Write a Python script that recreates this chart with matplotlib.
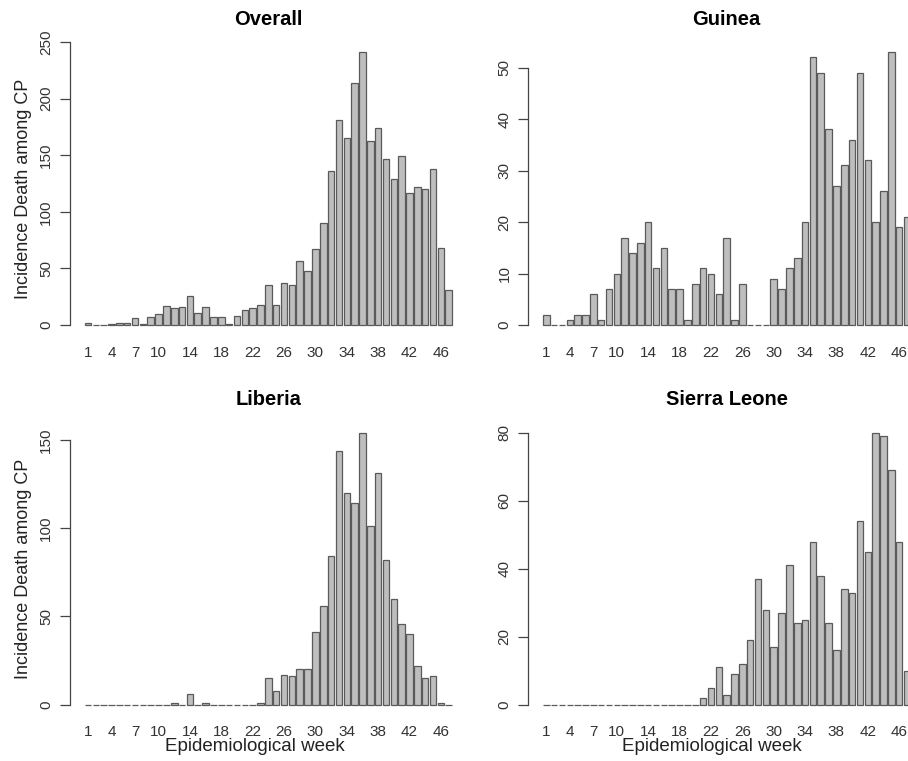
import numpy as np
import matplotlib
matplotlib.use("Agg")
import matplotlib.pyplot as plt

plt.rcParams['font.family'] = ['Liberation Sans', 'DejaVu Sans']

weeks = list(range(1, 48))
tick_weeks = [1, 4, 7, 10, 14, 18, 22, 26, 30, 34, 38, 42, 46]

overall = [2, 0, 0, 1, 2, 2, 6, 1, 7, 10, 17, 15, 16, 26, 11, 16, 7, 7, 1, 8,
           13, 15, 18, 35, 18, 37, 35, 57, 48, 67, 90, 136, 181, 165, 214, 241,
           163, 174, 147, 129, 149, 117, 122, 120, 138, 68, 31]
guinea = [2, 0, 0, 1, 2, 2, 6, 1, 7, 10, 17, 14, 16, 20, 11, 15, 7, 7, 1, 8,
          11, 10, 6, 17, 1, 8, 0, 0, 0, 9, 7, 11, 13, 20, 52, 49, 38, 27, 31, 36,
          49, 32, 20, 26, 53, 19, 21]
liberia = [0, 0, 0, 0, 0, 0, 0, 0, 0, 0, 0, 1, 0, 6, 0, 1, 0, 0, 0, 0,
           0, 0, 1, 15, 8, 17, 16, 20, 20, 41, 56, 84, 144, 120, 114, 154, 101, 131, 82, 60,
           46, 40, 22, 15, 16, 1, 0]
sierra_leone = [0, 0, 0, 0, 0, 0, 0, 0, 0, 0, 0, 0, 0, 0, 0, 0, 0, 0, 0, 0,
                2, 5, 11, 3, 9, 12, 19, 37, 28, 17, 27, 41, 24, 25, 48, 38, 24, 16, 34, 33,
                54, 45, 80, 79, 69, 48, 10]

titles = ["Overall", "Guinea", "Liberia", "Sierra Leone"]
series = [overall, guinea, liberia, sierra_leone]
yticks = [[0, 50, 100, 150, 200, 250], [0, 10, 20, 30, 40, 50],
          [0, 50, 100, 150], [0, 20, 40, 60, 80]]

W, H = 908, 761
fig = plt.figure(figsize=(W / 100, H / 100), dpi=100)

def px_axes(left, right, top, bottom):
    return fig.add_axes([left / W, 1 - bottom / H, (right - left) / W, (bottom - top) / H])

cols = [(70, 466.7), (528.3, 925.0)]
rows = [(41.3, 336.0), (422.0, 715.6)]

n = len(weeks)
centers = 0.7 + 1.2 * np.arange(n)
x0, x1 = 0.2, centers[-1] + 0.5
pad = 0.04 * (x1 - x0)

edge = '#5a5a5a'
fill = '#bebebe'
textc = '#222222'

for k, (title, vals, yt) in enumerate(zip(titles, series, yticks)):
    r, c = divmod(k, 2)
    ax = px_axes(cols[c][0], cols[c][1], rows[r][0], rows[r][1])
    ax.bar(centers, vals, width=1.0, color=fill, edgecolor=edge, linewidth=0.9)
    vmax = max(vals)
    ax.set_xlim(x0 - pad, x1 + pad)
    ax.set_ylim(-0.04 * vmax, 1.04 * vmax)
    for s in ['top', 'right', 'bottom']:
        ax.spines[s].set_visible(False)
    ax.spines['left'].set_bounds(yt[0], yt[-1])
    ax.spines['left'].set_color('#444444')
    ax.spines['left'].set_linewidth(0.9)
    ax.set_yticks(yt)
    ax.set_yticklabels([str(v) for v in yt], rotation=90, va='center',
                       fontsize=11, color='#333333')
    ax.tick_params(axis='y', length=7, width=0.9, color='#444444', pad=5)
    ax.set_xticks([centers[w - 1] for w in tick_weeks])
    ax.set_xticklabels([str(w) for w in tick_weeks], fontsize=11, color='#333333')
    ax.tick_params(axis='x', length=0, pad=7)
    ax.set_title(title, fontsize=14.5, fontweight='bold', pad=12, color='black')

    cy = (rows[r][0] + rows[r][1]) / 2
    if c == 0:
        fig.text(24 / W, 1 - cy / H, "Incidence Death among CP", rotation=90,
                 ha='center', va='center', fontsize=13, color=textc)
    if r == 1:
        xc = 254.5 if c == 0 else 711.5
        fig.text(xc / W, 1 - 746.5 / H, "Epidemiological week",
                 ha='center', va='center', fontsize=13.5, color=textc)

fig.savefig("out.png", dpi=100)
